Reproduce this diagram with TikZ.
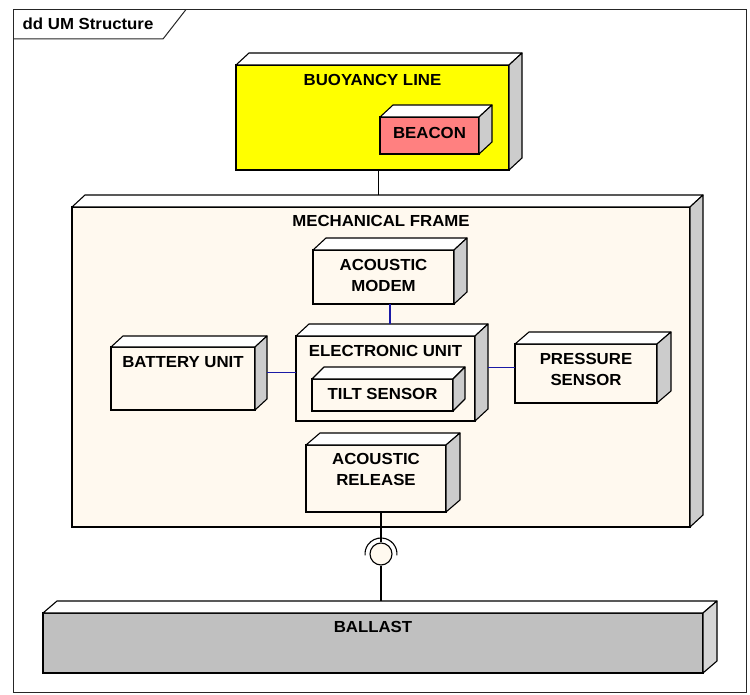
\documentclass[tikz,border=0pt]{standalone}
\usepackage{fontspec}
\setmainfont{Liberation Sans}[FakeStretch=1.05]
\definecolor{cream}{HTML}{FFF9EF}
\definecolor{sidegray}{HTML}{CCCCCC}
\definecolor{sidelight}{HTML}{D6D6D6}
\definecolor{ballastgray}{HTML}{C0C0C0}
\definecolor{beaconred}{HTML}{FF8080}
\definecolor{linkblue}{HTML}{1A1AA6}
\definecolor{yellowbox}{HTML}{FFFF00}
\tikzset{
  front/.style={draw=black, line width=1.2pt, rectangle, anchor=north west,
    inner sep=0pt, outer sep=0pt, fill=cream},
  boxcap/.style={anchor=north, inner sep=0pt, align=center, yshift=-9.5pt},
  boxface/.style={fill=white, draw=black, line width=1.1pt, line join=round},
  link/.style={draw=linkblue, line width=1.1pt},
  plainlink/.style={draw=black, line width=1.1pt},
  framestyle/.style={draw=black!85, line width=1pt}
}
\newcommand\boxfaces[4]{%
  \filldraw[boxface] (#1.north west) -- ++(#3pt,#4pt) -- ([shift={(#3pt,#4pt)}]#1.north east) -- (#1.north east) -- cycle;
  \filldraw[boxface, fill=#2] (#1.north east) -- ++(#3pt,#4pt) -- ([shift={(#3pt,#4pt)}]#1.south east) -- (#1.south east) -- cycle;
}
\begin{document}
\begin{tikzpicture}[x=1pt, y=-1pt, font=\bfseries\fontsize{16}{21}\selectfont]
\useasboundingbox[fill=white] (0,0) rectangle (750,695);
% diagram frame
\draw[framestyle] (13.5,9.5) rectangle (746,692);
\coordinate (tabA) at (13.5,39);
\coordinate (tabB) at (163,39);
\coordinate (tabC) at (186,9.5);
\draw[framestyle] (tabA) -- (tabB) -- (tabC);
\node[anchor=base west, inner sep=0pt] (title) at (22.5,29.5) {dd UM Structure};

% buoyancy line
\node[front, fill=yellowbox, minimum width=273pt, minimum height=105pt,
  label={[boxcap]north:BUOYANCY LINE}] (buoy) at (236,65) {};
\boxfaces{buoy}{sidegray}{13}{12}
\node[front, fill=beaconred, minimum width=99pt, minimum height=37pt,
  label={[boxcap, yshift=-1pt]north:BEACON}] (beacon) at (380,117) {};
\boxfaces{beacon}{sidegray}{13}{12}

% mechanical frame
\node[front, minimum width=618pt, minimum height=320pt,
  label={[boxcap, yshift=1pt]north:MECHANICAL FRAME}] (mech) at (72,207) {};
\boxfaces{mech}{sidegray}{13}{12}

\node[front, minimum width=141pt, minimum height=54pt,
  label={[boxcap]north:ACOUSTIC\\MODEM}] (modem) at (313,250) {};
\boxfaces{modem}{sidegray}{13}{12}

\node[front, minimum width=144pt, minimum height=63pt,
  label={[boxcap]north:BATTERY UNIT}] (batt) at (111,347) {};
\boxfaces{batt}{sidegray}{12}{11}

\node[front, minimum width=179pt, minimum height=85pt,
  label={[boxcap]north:ELECTRONIC UNIT}] (elec) at (296,336) {};
\boxfaces{elec}{sidegray}{13}{12}

\node[front, minimum width=141pt, minimum height=32pt,
  label={[boxcap]north:TILT SENSOR}] (tilt) at (312,379) {};
\boxfaces{tilt}{sidegray}{12}{12}

\node[front, minimum width=142pt, minimum height=59pt,
  label={[boxcap]north:PRESSURE\\SENSOR}] (pres) at (515,344) {};
\boxfaces{pres}{sidegray}{14}{12}

\node[front, minimum width=140pt, minimum height=67pt,
  label={[boxcap, yshift=1pt]north:ACOUSTIC\\RELEASE}] (rel) at (306,445) {};
\boxfaces{rel}{sidegray}{14}{12}

% ballast
\node[front, fill=ballastgray, minimum width=660pt, minimum height=60pt,
  label={[boxcap, yshift=1pt]north:BALLAST}] (ball) at (43,613) {};
\boxfaces{ball}{sidelight}{14}{12}

% connectors
\draw[plainlink] ([xshift=6pt]buoy.south) -- ([xshift=6pt, yshift=12pt]buoy.south |- mech.north);
\draw[link] ([xshift=6.5pt]modem.south) -- ([xshift=6.5pt, yshift=12pt]modem.south |- elec.north);
\draw[link] ([shift={(12pt,6pt)}]batt.east) -- ([yshift=6pt]batt.east -| elec.west);
\draw[link] ([shift={(13pt,6pt)}]elec.east |- pres.west) -- ([yshift=6pt]pres.west);

% socket (required interface)
\node[circle, draw=black, line width=1.1pt, fill=cream, minimum size=22pt, inner sep=0pt] (sock) at (381,554) {};
\draw[black, line width=1.1pt] ([shift={(-5:16pt)}]sock.center) arc[start angle=-5, end angle=185, radius=16pt];
\draw[plainlink] (sock.north |- rel.south) -- (sock.north);
\draw[plainlink] (sock.south) -- ([yshift=12pt]sock.south |- ball.north);
\end{tikzpicture}
\end{document}
